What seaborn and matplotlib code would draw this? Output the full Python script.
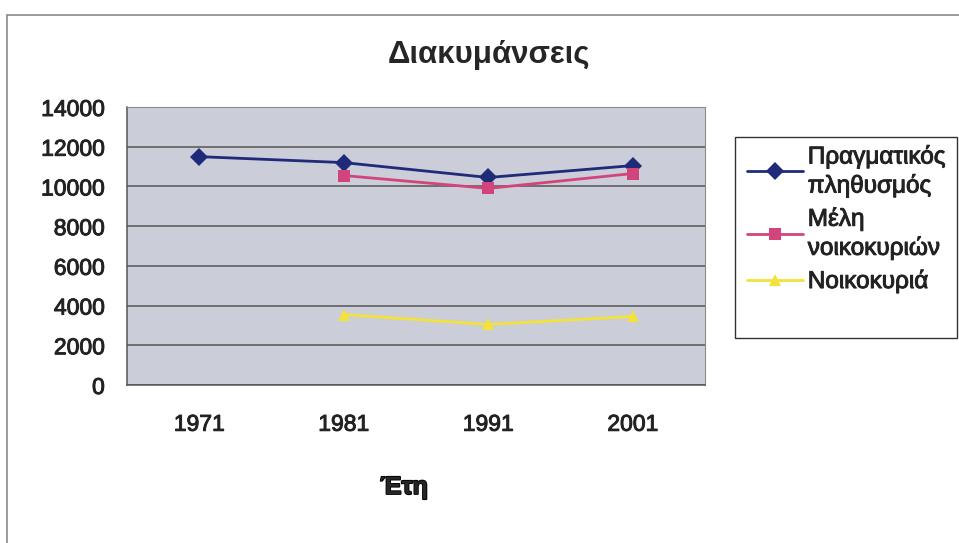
import pandas as pd
import numpy as np
import matplotlib.pyplot as plt
import matplotlib.patches as mpatches
import matplotlib.patheffects as pe
import seaborn as sns

# values
years = ['1971', '1981', '1991', '2001']
real_pop = [11500, 11200, 10450, 11050]
household_members = [None, 10550, 9900, 10650]
households = [None, 3550, 3050, 3450]

labels = ['Πραγματικός\nπληθυσμός', 'Μέλη\nνοικοκυριών', 'Νοικοκυριά']
colors = ['#1f2a78', '#d2457c', '#f3e23a']
markers = ['D', 's', '^']
yticks = [0, 2000, 4000, 6000, 8000, 10000, 12000, 14000]

rows = []
for lab, vals in zip(labels, [real_pop, household_members, households]):
    for i, (yr, v) in enumerate(zip(years, vals)):
        if v is not None:
            rows.append({'pos': i, 'year': yr, 'value': v, 'series': lab})
df = pd.DataFrame(rows)

sns.set_style('white')
plt.rcParams['font.family'] = ['Liberation Sans', 'DejaVu Sans']

W, H = 959, 543
fig = plt.figure(figsize=(W / 100, H / 100), dpi=100)
ax = fig.add_axes([127 / W, 1 - 385 / H, (705 - 127) / W, (385 - 107) / H])

# scanned text looks a bit heavier than regular weight
heavy = [pe.withStroke(linewidth=0.7, foreground='#222222')]

# outer chart frame
fig.patches.append(mpatches.Rectangle((7 / W, -0.05), 1.0, 1 - 15 / H + 0.05,
                                      transform=fig.transFigure, fill=False,
                                      edgecolor='#8a8a8a', linewidth=1.2))
# legend frame (Excel leaves empty room below the entries)
fig.patches.append(mpatches.Rectangle((735 / W, 1 - 338 / H), (957 - 735) / W, (338 - 137) / H,
                                      transform=fig.transFigure, fill=False,
                                      edgecolor='#333333', linewidth=1.0))

ax.set_facecolor('#cbcdd9')
sns.lineplot(data=df, x='pos', y='value', hue='series', style='series',
             palette=dict(zip(labels, colors)), markers=dict(zip(labels, markers)),
             dashes=False, markersize=9, markeredgewidth=0, linewidth=2,
             ax=ax, legend=True)

ax.set_xlim(-0.5, 3.5)
ax.set_ylim(0, 14000)
ax.set_yticks(yticks)
ax.set_yticklabels([str(t) for t in yticks], fontsize=16.5, color='#222222')
ax.yaxis.grid(True, color='#555555', linewidth=1.1)
ax.set_axisbelow(True)

# category labels between boundary tick marks
ax.set_xticks([-0.5, 0.5, 1.5, 2.5, 3.5])
ax.set_xticklabels([])
ax.set_xticks(range(len(years)), minor=True)
ax.set_xticklabels(years, minor=True, fontsize=16.5, color='#222222')
ax.tick_params(axis='x', which='major', length=7, color='#555555', width=1)
ax.tick_params(axis='x', which='minor', length=0, pad=20)
ax.tick_params(axis='y', length=7, color='#555555', width=1, pad=9)
for t in ax.get_yticklabels() + ax.get_xticklabels(minor=True):
    t.set_path_effects(heavy)

for s in ['top', 'right']:
    ax.spines[s].set_color('#8a8a8a')
for s in ['left', 'bottom']:
    ax.spines[s].set_color('#555555')
    ax.spines[s].set_linewidth(1.1)

ax.set_xlabel('')
ax.set_ylabel('')
fig.text(404 / W, 1 - 487 / H, 'Έτη', ha='center', va='center',
         fontsize=18, fontweight='bold',
         path_effects=[pe.withStroke(linewidth=1.3, foreground='black')])
fig.text(489 / W, 1 - 55 / H, 'Διακυμάνσεις', ha='center', va='center',
         fontsize=22.5, fontweight='bold')

handles, leg_labels = ax.get_legend_handles_labels()
leg = ax.legend(handles, leg_labels, loc='upper left', bbox_to_anchor=(747 / W, 1 - 145 / H),
                bbox_transform=fig.transFigure, fontsize=17.5, frameon=False,
                borderaxespad=0, borderpad=0, handlelength=2.3, handletextpad=0.2,
                labelspacing=0.4)
for t in leg.get_texts():
    t.set_linespacing(1.3)
    t.set_color('#222222')
    t.set_path_effects(heavy)

fig.savefig('out.png', dpi=100, facecolor='white')
